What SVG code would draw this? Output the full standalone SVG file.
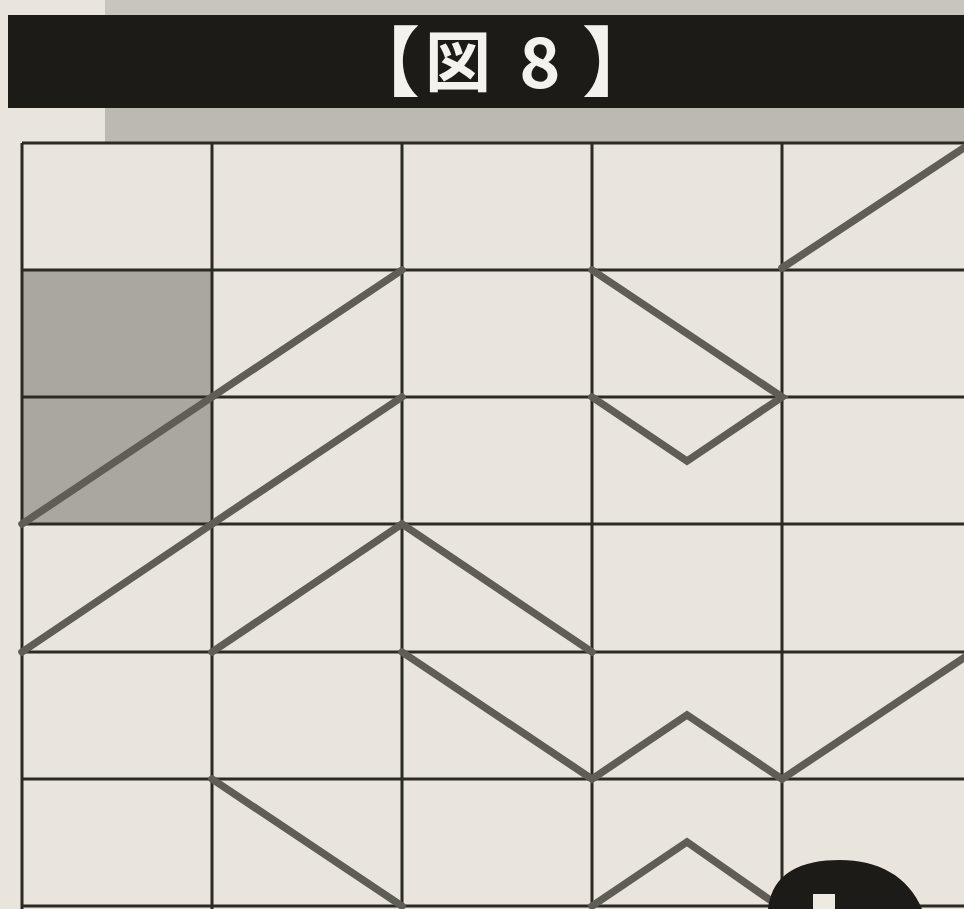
<svg xmlns="http://www.w3.org/2000/svg" width="964" height="909" viewBox="0 0 964 909">
<style>
.grid{stroke:#2b2a24;stroke-width:3;fill:none}
.diag{stroke:#5f5d56;stroke-width:7.5;fill:none;stroke-linejoin:miter;stroke-linecap:round}
.hd{fill:#f4f2ee;font-family:"Noto Sans CJK JP","Liberation Sans",sans-serif;font-weight:bold}
</style>
<rect x="0" y="0" width="964" height="909" fill="#e9e5dd"/>
<rect x="105" y="0" width="859" height="15" fill="#c8c5bd"/>
<rect x="105" y="108" width="859" height="34" fill="#bcb9b1"/>
<g id="header">
<rect x="8" y="15" width="956" height="93" fill="#1c1b18"/>
<text class="hd" x="382" y="90" font-size="76" text-anchor="middle">【</text>
<text class="hd" x="458" y="86" font-size="66" text-anchor="middle">図</text>
<text class="hd" x="540" y="88" font-size="70" text-anchor="middle" font-family="Liberation Sans Narrow, Liberation Sans, sans-serif">8</text>
<text class="hd" x="620" y="90" font-size="76" text-anchor="middle">】</text>
</g>
<g id="shaded">
<rect x="22" y="270" width="190" height="254" fill="#aaa79e"/>
</g>
<g id="grid" class="grid">
<line x1="22" y1="143" x2="964" y2="143"/>
<line x1="22" y1="270" x2="964" y2="270"/>
<line x1="22" y1="397" x2="964" y2="397"/>
<line x1="22" y1="524" x2="964" y2="524"/>
<line x1="22" y1="652" x2="964" y2="652"/>
<line x1="22" y1="779" x2="964" y2="779"/>
<line x1="22" y1="906" x2="964" y2="906"/>
<line x1="22" y1="143" x2="22" y2="909"/>
<line x1="212" y1="143" x2="212" y2="909"/>
<line x1="402" y1="143" x2="402" y2="909"/>
<line x1="592" y1="143" x2="592" y2="909"/>
<line x1="782" y1="143" x2="782" y2="909"/>
</g>
<g id="connectors" class="diag">
<line x1="782" y1="268" x2="968" y2="145"/>
<line x1="212" y1="397" x2="402" y2="270"/>
<polyline points="592,270 782,397 687,461 592,397"/>
<line x1="22" y1="524" x2="212" y2="397"/>
<line x1="212" y1="524" x2="402" y2="397"/>
<line x1="22" y1="652" x2="212" y2="524"/>
<polyline points="212,652 402,524 592,652"/>
<polyline points="402,652 592,779 687,715 782,779 968,655"/>
<line x1="212" y1="779" x2="402" y2="906"/>
<polyline points="592,906 687,842 770,900"/>
</g>
<g id="blob">
<path d="M768,909 C772,872 802,860 840,860 C878,860 908,876 922,909 Z" fill="#1c1b18"/>
<rect x="813" y="894" width="22" height="15" fill="#eeeae2"/>
</g>
</svg>
